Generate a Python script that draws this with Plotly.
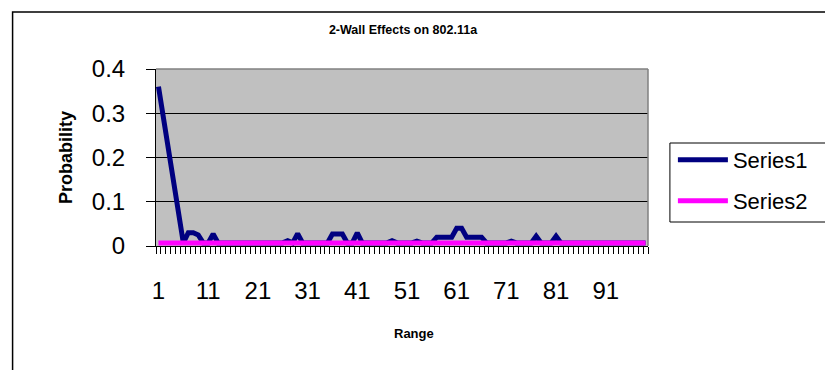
import plotly.graph_objects as go

# ---------------- data ----------------
categories = list(range(1, 100))  # Range 1..99

series1 = [0.36, 0.29, 0.215, 0.14, 0.065, 0.007, 0.03, 0.03, 0.025, 0.007,
           0.007, 0.027, 0.007, 0.007, 0.007, 0.007, 0.007, 0.007, 0.007, 0.007,
           0.007, 0.007, 0.007, 0.007, 0.007, 0.007, 0.012, 0.007, 0.028, 0.007,
           0.007, 0.007, 0.007, 0.007, 0.007, 0.027, 0.027, 0.027, 0.007, 0.007,
           0.03, 0.007, 0.007, 0.007, 0.007, 0.007, 0.007, 0.012, 0.007, 0.007,
           0.007, 0.007, 0.011, 0.007, 0.007, 0.007, 0.02, 0.02, 0.02, 0.02,
           0.04, 0.04, 0.02, 0.02, 0.02, 0.02, 0.007, 0.007, 0.007, 0.007,
           0.007, 0.011, 0.007, 0.007, 0.007, 0.007, 0.022, 0.007, 0.007, 0.007,
           0.022, 0.007, 0.007, 0.007, 0.007, 0.007, 0.007, 0.007, 0.007, 0.007,
           0.007, 0.007, 0.007, 0.007, 0.007, 0.007, 0.007, 0.007, 0.007]
series2 = [0.007] * 99

x_tick_vals = [1, 11, 21, 31, 41, 51, 61, 71, 81, 91]
x_tick_text = [str(v) for v in x_tick_vals]
y_tick_vals = [0, 0.1, 0.2, 0.3, 0.4]
y_tick_text = ["0", "0.1", "0.2", "0.3", "0.4"]

# ---------------- layout helpers ----------------
W, H = 825, 370
PL, PR, PT, PB = 156, 650, 69, 246
pw, ph = PR - PL, PB - PT


def px_x(x):
    return (x - PL) / pw


def px_y(y):
    return (PB - y) / ph


FONT = "Liberation Sans, Arial, sans-serif"

fig = go.Figure()
fig.add_trace(go.Scatter(x=categories, y=series1, mode="lines", name="Series1",
                         line=dict(color="#000080", width=5), legend="legend"))
fig.add_trace(go.Scatter(x=categories, y=series2, mode="lines", name="Series2",
                         line=dict(color="#FF00FF", width=5), legend="legend2"))

boundaries = [c - 0.5 for c in categories] + [categories[-1] + 0.5]

fig.update_layout(
    width=W, height=H,
    margin=dict(l=PL, r=W - PR, t=PT, b=H - PB),
    paper_bgcolor="white",
    plot_bgcolor="#C0C0C0",
    font=dict(family=FONT, color="black"),
    title=dict(text="2-Wall Effects on 802.11a", font=dict(size=12.5, weight="bold"),
               x=(PL + PR) / 2 / W, xanchor="center", xref="container",
               y=1 - 30 / H, yanchor="middle", yref="container"),
    xaxis=dict(range=[0.5, 99.5], tickvals=x_tick_vals, ticktext=x_tick_text,
               ticks="", showgrid=False, zeroline=False,
               showline=True, linecolor="black", linewidth=1,
               tickfont=dict(size=24), ticklabelstandoff=23,
               minor=dict(tickvals=boundaries, ticks="outside", ticklen=7,
                          tickcolor="black", tickwidth=1, showgrid=False)),
    yaxis=dict(range=[0, 0.4], tickvals=y_tick_vals, ticktext=y_tick_text,
               ticks="outside", ticklen=9, tickcolor="black", tickwidth=1,
               showgrid=True, gridcolor="black", gridwidth=1, zeroline=False,
               showline=True, linecolor="black", linewidth=1,
               tickfont=dict(size=24), ticklabelstandoff=16,
               title=dict(text="Probability", font=dict(size=18, weight="bold"), standoff=14)),
    legend=dict(x=px_x(675), y=px_y(160), xanchor="left", yanchor="middle",
                bgcolor="rgba(0,0,0,0)", borderwidth=0, itemwidth=50,
                font=dict(size=22)),
    legend2=dict(x=px_x(675), y=px_y(201), xanchor="left", yanchor="middle",
                 bgcolor="rgba(0,0,0,0)", borderwidth=0, itemwidth=50,
                 font=dict(size=22)),
    showlegend=True,
    annotations=[
        dict(text="Range", xref="paper", yref="paper", x=px_x(415), y=px_y(333),
             xanchor="center", yanchor="middle", showarrow=False,
             font=dict(size=13, weight="bold")),
    ],
    shapes=[
        # outer chart border
        dict(type="rect", xref="paper", yref="paper",
             x0=px_x(12), x1=px_x(860), y0=px_y(400), y1=px_y(12),
             line=dict(color="black", width=1.5), fillcolor="rgba(0,0,0,0)", layer="below"),
        # plot area top & right border (gray)
        dict(type="line", xref="paper", yref="paper", x0=0, x1=1, y0=1, y1=1,
             line=dict(color="#808080", width=1.5)),
        dict(type="line", xref="paper", yref="paper", x0=1, x1=1, y0=0, y1=1,
             line=dict(color="#808080", width=1.5)),
        # legend box
        dict(type="rect", xref="paper", yref="paper",
             x0=px_x(672), x1=px_x(860), y0=px_y(222), y1=px_y(143),
             line=dict(color="black", width=1), fillcolor="white", layer="below"),
    ],
)

fig.write_html("out.html")
